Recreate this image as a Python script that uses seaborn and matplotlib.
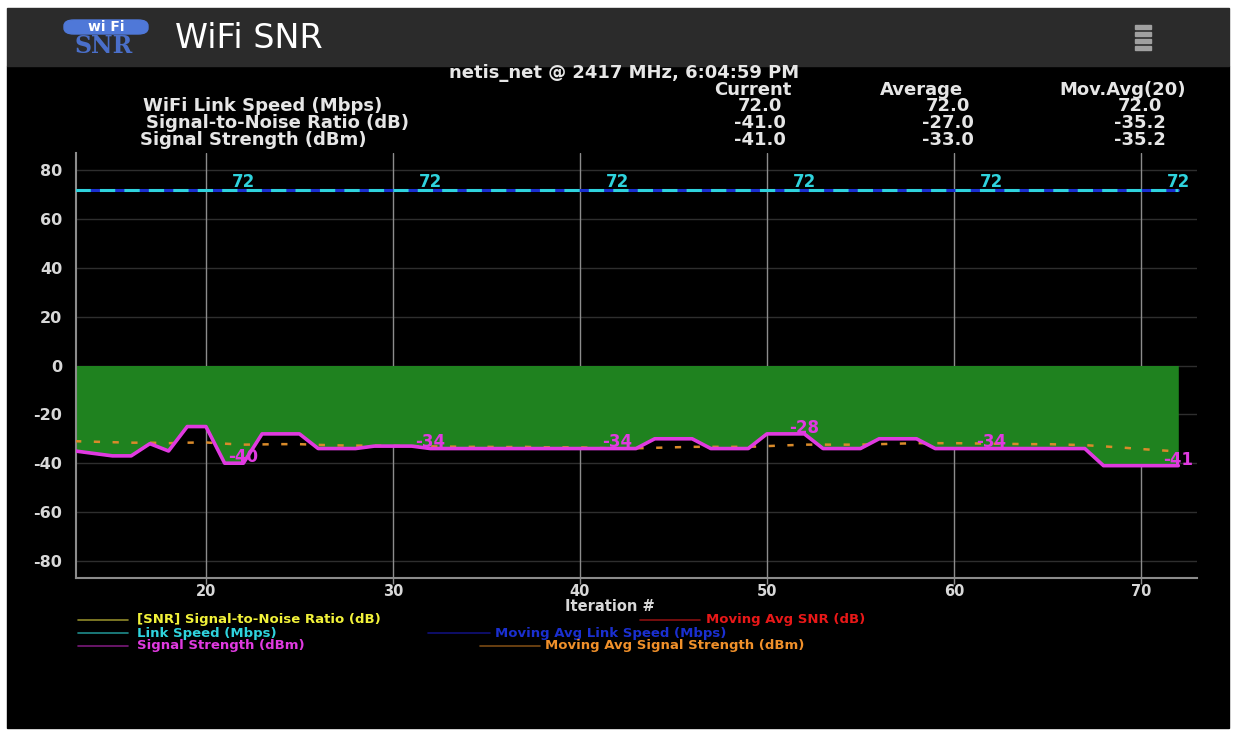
import matplotlib
matplotlib.use("Agg")
import matplotlib.pyplot as plt
import seaborn as sns
import pandas as pd
from matplotlib.patches import Rectangle, FancyBboxPatch
from matplotlib.lines import Line2D

# ---------------- data ----------------
iterations = [13, 14, 15, 16, 17, 18, 19, 20, 21, 22,
              23, 24, 25, 26, 27, 28, 29, 30, 31, 32,
              33, 34, 35, 36, 37, 38, 39, 40, 41, 42,
              43, 44, 45, 46, 47, 48, 49, 50, 51, 52,
              53, 54, 55, 56, 57, 58, 59, 60, 61, 62,
              63, 64, 65, 66, 67, 68, 69, 70, 71, 72]
signal_dbm = [-35, -36, -37, -37, -32, -35, -25, -25, -40, -40,
              -28, -28, -28, -34, -34, -34, -33, -33, -33, -34,
              -34, -34, -34, -34, -34, -34, -34, -34, -34, -34,
              -34, -30, -30, -30, -34, -34, -34, -28, -28, -28,
              -34, -34, -34, -30, -30, -30, -34, -34, -34, -34,
              -34, -34, -34, -34, -34, -41, -41, -41, -41, -41]
snr_db = [-35, -36, -37, -37, -32, -35, -25, -25, -40, -40,
          -28, -28, -28, -34, -34, -34, -33, -33, -33, -34,
          -34, -34, -34, -34, -34, -34, -34, -34, -34, -34,
          -34, -30, -30, -30, -34, -34, -34, -28, -28, -28,
          -34, -34, -34, -30, -30, -30, -34, -34, -34, -34,
          -34, -34, -34, -34, -34, -41, -41, -41, -41, -41]
link_speed_mbps = [72, 72, 72, 72, 72, 72, 72, 72, 72, 72,
                   72, 72, 72, 72, 72, 72, 72, 72, 72, 72,
                   72, 72, 72, 72, 72, 72, 72, 72, 72, 72,
                   72, 72, 72, 72, 72, 72, 72, 72, 72, 72,
                   72, 72, 72, 72, 72, 72, 72, 72, 72, 72,
                   72, 72, 72, 72, 72, 72, 72, 72, 72, 72]
mov_avg_link = [72, 72, 72, 72, 72, 72, 72, 72, 72, 72,
                72, 72, 72, 72, 72, 72, 72, 72, 72, 72,
                72, 72, 72, 72, 72, 72, 72, 72, 72, 72,
                72, 72, 72, 72, 72, 72, 72, 72, 72, 72,
                72, 72, 72, 72, 72, 72, 72, 72, 72, 72,
                72, 72, 72, 72, 72, 72, 72, 72, 72, 72]
mov_avg_signal = [-31.0, -31.2, -31.4, -31.6, -31.6, -31.8, -31.6, -31.5, -32.0, -32.4,
                  -32.3, -32.2, -32.2, -32.5, -32.7, -32.8, -32.8, -32.9, -33.0, -33.1,
                  -33.2, -33.3, -33.3, -33.4, -33.3, -33.5, -33.5, -33.5, -33.8, -33.9,
                  -33.9, -33.7, -33.5, -33.3, -33.3, -33.3, -33.3, -33.0, -32.7, -32.4,
                  -32.4, -32.4, -32.4, -32.2, -32.0, -31.8, -31.8, -31.8, -31.9, -32.0,
                  -32.1, -32.2, -32.2, -32.4, -32.6, -33.1, -33.6, -34.2, -34.7, -35.2]
label_iterations = [22, 32, 42, 52, 62, 72]
x_ticks = [20, 30, 40, 50, 60, 70]
y_ticks = [80, 60, 40, 20, 0, -20, -40, -60, -80]

status_title = "netis_net @ 2417 MHz, 6:04:59 PM"
col_headers = ["Current", "Average", "Mov.Avg(20)"]
row_names = ["WiFi Link Speed (Mbps)", "Signal-to-Noise Ratio (dB)", "Signal Strength (dBm)"]
row_values = [["72.0", "72.0", "72.0"],
              ["-41.0", "-27.0", "-35.2"],
              ["-41.0", "-33.0", "-35.2"]]

df = pd.DataFrame({"Iteration": iterations, "Signal": signal_dbm, "SNR": snr_db,
                   "Link": link_speed_mbps, "MALink": mov_avg_link,
                   "MASignal": mov_avg_signal})

# ---------------- style ----------------
sns.set_theme(style="dark")
plt.rcParams['font.family'] = ['DejaVu Sans']
plt.rcParams['axes.unicode_minus'] = False

W, H = 1236, 731
fig = plt.figure(figsize=(W / 100, H / 100), dpi=100, facecolor='white')


def fx(x):
    return x / W


def fy(y):
    return 1 - y / H


# phone screen background and header bar (behind everything)
fig.add_artist(Rectangle((fx(7), fy(728)), fx(1229) - fx(7), fy(66) - fy(728),
                         transform=fig.transFigure, color='black', zorder=-3))
fig.add_artist(Rectangle((fx(7), fy(66)), fx(1229) - fx(7), fy(8) - fy(66),
                         transform=fig.transFigure, color='#2b2b2b', zorder=-3))

# logo
fig.add_artist(FancyBboxPatch((fx(64), fy(34)), fx(84), fy(20) - fy(34),
                              boxstyle="round,pad=0,rounding_size=0.008",
                              transform=fig.transFigure, color='#4f78d8', zorder=-2))
fig.text(fx(106), fy(27), "wi Fi", color='white', fontsize=10, fontweight='bold',
         ha='center', va='center')
fig.text(fx(104), fy(46), "SNR", color='#4a6fc9', fontsize=17, fontweight='bold',
         family=['DejaVu Serif'], ha='center', va='center')
fig.text(fx(175), fy(38), "WiFi SNR", color='white', fontsize=24, ha='left', va='center')
# menu icon
for yy in (25, 32, 39, 46):
    fig.add_artist(Rectangle((fx(1135), fy(yy + 4)), fx(16), fy(yy) - fy(yy + 4),
                             transform=fig.transFigure, color='#a0a0a0', zorder=-2))

# status block
txtc = '#e6e6e6'
fig.text(fx(624), fy(73), status_title, color=txtc, fontsize=13, fontweight='bold',
         ha='center', va='center')
for cx, h in zip([753, 921, 1123], col_headers):
    fig.text(fx(cx), fy(90), h, color=txtc, fontsize=13, fontweight='bold',
             ha='center', va='center')
for ry, cx, name in zip([106, 123, 140], [263, 278, 253], row_names):
    fig.text(fx(cx), fy(ry), name, color=txtc, fontsize=13, fontweight='bold',
             ha='center', va='center')
for ry, vals in zip([106, 123, 140], row_values):
    for cx, v in zip([760, 948, 1140], vals):
        fig.text(fx(cx), fy(ry), v, color=txtc, fontsize=13, fontweight='bold',
                 ha='center', va='center')

# ---------------- chart ----------------
ax = fig.add_axes([fx(76), fy(578), fx(1197) - fx(76), fy(153) - fy(578)])
ax.set_facecolor('black')
ax.set_xlim(13.05, 73.0)
ax.set_ylim(-87, 87)

ax.fill_between(df["Iteration"], 0, df["SNR"], color='#1f821f', lw=0, zorder=1)

sns.lineplot(data=df, x="Iteration", y="MALink", ax=ax, color='#1a2fd0', lw=2.2, zorder=3)
sns.lineplot(data=df, x="Iteration", y="Link", ax=ax, color='#2fd3dd', lw=2.2,
             zorder=4).lines[-1].set_dashes([5, 3])
sns.lineplot(data=df, x="Iteration", y="MASignal", ax=ax, color='#d98a2a', lw=1.8,
             zorder=5).lines[-1].set_dashes([2.5, 5])
sns.lineplot(data=df, x="Iteration", y="SNR", ax=ax, color='#e8e84a', lw=1.5, zorder=6)
sns.lineplot(data=df, x="Iteration", y="Signal", ax=ax, color='#e03ae0', lw=2.6, zorder=7)

for it in label_iterations:
    k = iterations.index(it)
    ax.text(it, link_speed_mbps[k] + 3, str(link_speed_mbps[k]), color='#2fd3dd',
            fontsize=12, fontweight='bold', ha='center', va='center', zorder=8)
    ax.text(it, signal_dbm[k] + 2.5, str(signal_dbm[k]), color='#e03ae0',
            fontsize=12, fontweight='bold', ha='center', va='center', zorder=8)

ax.set_xticks(x_ticks)
ax.set_yticks(y_ticks)
ax.grid(False)
for xt in x_ticks:
    ax.axvline(xt, color='#8c8c8c', lw=1, zorder=0.5)
for yt in y_ticks:
    ax.axhline(yt, color='#2e2e2e', lw=1, zorder=0.4)

for side in ('top', 'right'):
    ax.spines[side].set_visible(False)
for side in ('left', 'bottom'):
    ax.spines[side].set_visible(True)
    ax.spines[side].set_color('#8c8c8c')
    ax.spines[side].set_linewidth(1.5)

ax.tick_params(axis='x', colors='#d8d8d8', labelsize=10.5, length=4, width=1,
               color='#8c8c8c', pad=0.5, bottom=True)
ax.tick_params(axis='y', colors='#d8d8d8', labelsize=11.5, length=0, pad=10, left=True)
for lab in ax.get_xticklabels() + ax.get_yticklabels():
    lab.set_fontweight('bold')

ax.set_ylabel("")
ax.set_xlabel("Iteration #", color='#d8d8d8', fontsize=10.5, fontweight='bold')
ax.xaxis.set_label_coords((610 - 76) / (1197 - 76), (578 - 599) / (578 - 153))

# ---------------- legend (manual, inline rows) ----------------
legend_rows = [
    [(78, 128, '#8f8a2a', 137, "[SNR] Signal-to-Noise Ratio (dB)", '#f2f23a'),
     (640, 700, '#8a1010', 706, "Moving Avg SNR (dB)", '#e81818')],
    [(78, 128, '#1f8c8c', 137, "Link Speed (Mbps)", '#2fd3dd'),
     (428, 490, '#10107a', 495, "Moving Avg Link Speed (Mbps)", '#1a2fd0')],
    [(78, 128, '#7a1a7a', 137, "Signal Strength (dBm)", '#e03ae0'),
     (480, 540, '#7a4a14', 545, "Moving Avg Signal Strength (dBm)", '#f0902a')],
]
for ry, row in zip([620, 633, 646], legend_rows):
    for x0, x1, lc, tx, label, tc in row:
        fig.add_artist(Line2D([fx(x0), fx(x1)], [fy(ry), fy(ry)], color=lc, lw=1.2,
                              transform=fig.transFigure))
        fig.text(fx(tx), fy(ry), label, color=tc, fontsize=9.5, fontweight='bold',
                 ha='left', va='center')

fig.savefig("out.png", dpi=100, facecolor='white')
